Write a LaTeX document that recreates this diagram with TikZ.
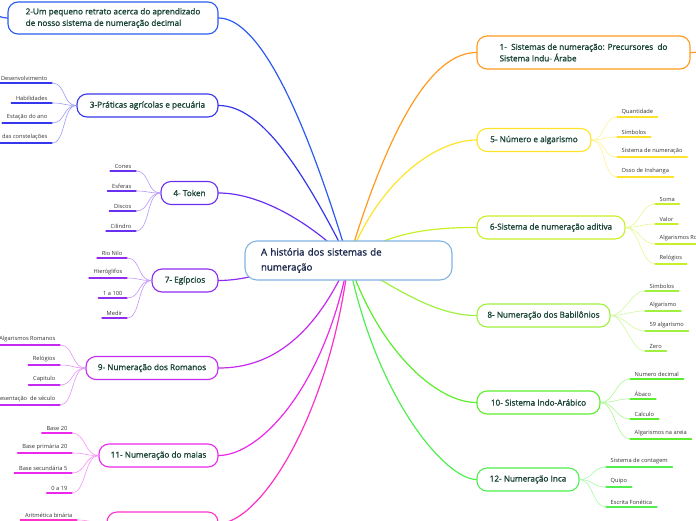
\documentclass[tikz,border=0pt]{standalone}
\usepackage{fontspec}
\setmainfont{Open Sans}
\newfontfamily\heavyfont{Open Sans}[FakeBold=1.4]
\usepackage{xcolor}
\usetikzlibrary{calc}

\definecolor{rootline}{HTML}{80B4E2}
\definecolor{roottxt}{HTML}{1D2A4D}
\definecolor{branchtxt}{HTML}{1B4636}
\definecolor{leaftxt}{HTML}{333333}
\definecolor{cDecimal}{HTML}{2B5BF0}
\definecolor{cAgri}{HTML}{3636EC}
\definecolor{cToken}{HTML}{6A30F0}
\definecolor{cEgito}{HTML}{8E2CF0}
\definecolor{cRoma}{HTML}{C42AF0}
\definecolor{cMaia}{HTML}{EC28EC}
\definecolor{cBin}{HTML}{FF30C8}
\definecolor{cPrec}{HTML}{FF9A1E}
\definecolor{cNum}{HTML}{FFE22A}
\definecolor{cAdit}{HTML}{C8F028}
\definecolor{cBabil}{HTML}{A0F040}
\definecolor{cIndo}{HTML}{5CEE2C}
\definecolor{cInca}{HTML}{50EE50}

\begin{document}
\begin{tikzpicture}[x=1pt, y=-1pt, line cap=round,
    rootbox/.style={draw=rootline,fill=white,line width=1.1pt,rounded corners=12pt,
      minimum width=207pt,minimum height=39pt,inner xsep=16pt,text width=175pt,
      align=left,text=roottxt,font=\heavyfont\fontsize{9.7}{15}\selectfont},
    branch/.style={draw=#1,fill=white,line width=1.1pt,rounded corners=10pt,
      minimum height=23pt,inner sep=2pt,align=left,text=branchtxt,
      font=\heavyfont\fontsize{8.2}{11.5}\selectfont},
    leaf/.style={inner xsep=4.5pt,inner ysep=2.5pt,text=leaftxt,
      font=\fontsize{5.7}{6}\selectfont},
    limb/.style={line width=1.2pt},
    twig/.style={line width=0.6pt},
    ul/.style={line width=1.4pt}]
  \useasboundingbox (0,0) rectangle (696,520);
  \clip (0,0) rectangle (696,520);
  % leaves hanging left / right of a branch: parent, colour, x of underline end, text/y
  \newcommand{\leavesL}[4]{%
    \foreach \t/\y [count=\i] in {#4}{%
      \node[leaf,anchor=south east] (#1\i) at (#3,\y) {\t};
      \draw[ul,#2] (#1\i.south west) -- (#1\i.south east);
      \draw[twig,#2!50!white] (#1.west) .. controls +(-14,0) and +(14,0) .. (#1\i.south east);
    }}
  \newcommand{\leavesR}[4]{%
    \foreach \t/\y [count=\i] in {#4}{%
      \node[leaf,anchor=south west] (#1\i) at (#3,\y) {\t};
      \draw[ul,#2] (#1\i.south west) -- (#1\i.south east);
      \draw[twig,#2!50!white] (#1.east) .. controls +(14,0) and +(-14,0) .. (#1\i.south west);
    }}
  \coordinate (hub) at (348.5,260.5);
  \coordinate (stubL) at (-20,10);
  \coordinate (stubR) at (716,50);

  % branches, left
  \node[branch=cDecimal,minimum width=210pt,minimum height=32pt] (n2) at (113,18)
    {2-Um pequeno retrato acerca do aprendizado\\de nosso sistema de numeração decimal};
  \node[branch=cAgri,minimum width=141pt] (n3) at (147.5,105.5) {3-Práticas agrícolas e pecuária};
  \node[branch=cToken,minimum width=57pt] (n4) at (189.5,193) {4- Token};
  \node[branch=cEgito,minimum width=66pt] (n7) at (185,280.5) {7- Egípcios};
  \node[branch=cRoma,minimum width=132pt] (n9) at (152,368) {9- Numeração dos Romanos};
  \node[branch=cMaia,minimum width=119pt] (n11) at (158.5,455.5) {11- Numeração do maias};
  \node[branch=cBin,minimum width=111pt] (n13) at (162.5,523.5) {};
  % branches, right
  \node[branch=cPrec,minimum width=213pt,minimum height=33pt] (n1) at (583.5,52.5)
    {1-\ \ Sistemas de numeração: Precursores\ \ do\\Sistema Indu- Árabe};
  \node[branch=cNum,minimum width=114pt] (n5) at (534,140) {5- Número e algarismo};
  \node[branch=cAdit,minimum width=148pt] (n6) at (551,227.5) {6-Sistema de numeração aditiva};
  \node[branch=cBabil,minimum width=133pt] (n8) at (543.5,315.5) {8- Numeração dos Babilônios};
  \node[branch=cIndo,minimum width=123pt] (n10) at (538.5,402.5) {10- Sistema Indo-Arábico};
  \node[branch=cInca,minimum width=102pt] (n12) at (528,479.5) {12- Numeração Inca};

  \draw[limb,cDecimal] (n2.east) .. controls +(40,0) and +(-45,-150) .. (hub);
  \draw[limb,cAgri] (n3.east) .. controls +(40,0) and +(-50,-100) .. (hub);
  \draw[limb,cToken] (n4.east) .. controls +(40,0) and +(-40,-40) .. (hub);
  \draw[limb,cEgito] (n7.east) .. controls +(40,0) and +(-60,0) .. (hub);
  \draw[limb,cRoma] (n9.east) .. controls +(40,0) and +(-40,90) .. (hub);
  \draw[limb,cMaia] (n11.east) .. controls +(40,0) and +(-25,130) .. (hub);
  \draw[limb,cBin] (n13.east) .. controls +(40,0) and +(-20,160) .. (hub);
  \draw[limb,cPrec] (n1.west) .. controls +(-40,0) and +(45,-150) .. (hub);
  \draw[limb,cNum] (n5.west) .. controls +(-40,0) and +(30,-80) .. (hub);
  \draw[limb,cAdit] (n6.west) .. controls +(-40,0) and +(40,-30) .. (hub);
  \draw[limb,cBabil] (n8.west) .. controls +(-40,0) and +(50,30) .. (hub);
  \draw[limb,cIndo] (n10.west) .. controls +(-40,0) and +(30,90) .. (hub);
  \draw[limb,cInca] (n12.west) .. controls +(-30,0) and +(28,140) .. (hub);
  \draw[limb,cDecimal] (n2.west) .. controls +(-10,0) and +(10,0) .. (stubL);
  \draw[limb,cPrec] (n1.east) .. controls +(10,0) and +(-10,0) .. (stubR);

  \node[rootbox] (root) at (hub) {A história dos sistemas de\\numeração};

  \leavesL{n3}{cAgri}{52}{Desenvolvimento/83, Habilidades/103, Estação do ano/123, das constelações/143}
  \leavesL{n4}{cToken}{136}{Cones/171, Esferas/191, Discos/211, Cilindro/231}
  \leavesL{n7}{cEgito}{127}{Rio Nilo/258, Hieróglifos/278, 1 a 100/298, Medir/318}
  \leavesL{n9}{cRoma}{60}{Algarismos Romanos/345, Relógios/365, Capitulo/385, Representação\ \ de século/405}
  \leavesL{n11}{cMaia}{72}{Base 20/433, Base primária 20/453, Base secundária 5/473, 0 a 19/493}
  \leavesL{n13}{cBin}{77}{Aritmética binária/520}
  \leavesR{n5}{cNum}{617}{Quantidade/117, Símbolos/137, Sistema de numeração/157, Osso de Inshanga/177}
  \leavesR{n6}{cAdit}{655}{Soma/204, Valor/224, Algarismos Romanos/244, Relógios/264}
  \leavesR{n8}{cBabil}{645}{Símbolos/291, Algarismo/311, 59 algarismo/331, Zero/351}
  \leavesR{n10}{cIndo}{630}{Numero decimal/379, Ábaco/399, Calculo/419, Algarismos na areia/439}
  \leavesR{n12}{cInca}{606}{Sistema de contagem/467, Quipo/487, Escrita Fonética/507}
\end{tikzpicture}
\end{document}
